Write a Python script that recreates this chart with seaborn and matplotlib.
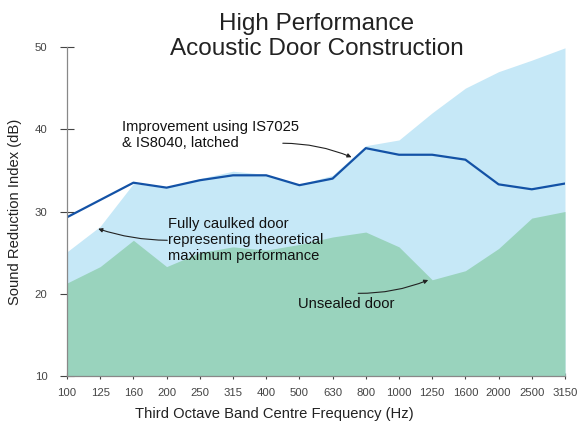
import matplotlib
matplotlib.use("Agg")
import matplotlib.pyplot as plt
import seaborn as sns
import numpy as np
import pandas as pd

# ── Data ──────────────────────────────────────────────────────
freqs = ["100", "125", "160", "200", "250", "315", "400", "500",
         "630", "800", "1000", "1250", "1600", "2000", "2500", "3150"]
latched = [29.3, 31.4, 33.5, 32.9, 33.8, 34.4, 34.4, 33.2,
           34.0, 37.7, 36.9, 36.9, 36.3, 33.3, 32.7, 33.4]
caulked = [25.1, 28.2, 33.4, 32.9, 34.0, 34.9, 34.5, 33.3,
           34.4, 38.0, 38.7, 42.0, 45.0, 47.0, 48.4, 49.9]
unsealed = [21.3, 23.3, 26.5, 23.3, 25.0, 25.7, 25.3, 26.0,
            26.9, 27.5, 25.7, 21.7, 22.8, 25.5, 29.2, 30.0]

df = pd.DataFrame({"pos": np.arange(len(freqs)), "freq": freqs,
                   "latched": latched, "caulked": caulked, "unsealed": unsealed})

sns.set_style("white")
plt.rcParams["font.family"] = ["Liberation Sans", "DejaVu Sans"]

fig = plt.figure(figsize=(5.82, 4.25), dpi=100)
ax = fig.add_axes([67 / 582, 1 - 376 / 425, 498 / 582, 329 / 425])

ax.fill_between(df["pos"], 10, df["caulked"], color="#c6e8f7", lw=0)
ax.fill_between(df["pos"], 10, df["unsealed"], color="#99d3bd", lw=0)
sns.lineplot(data=df, x="pos", y="latched", ax=ax, color="#1352a6", lw=1.6)

ax.set_xlim(0, len(freqs) - 1)
ax.set_ylim(10, 50)
ax.set_xticks(df["pos"])
ax.set_xticklabels(freqs)
ax.set_yticks([10, 20, 30, 40, 50])
ax.tick_params(axis="both", labelsize=8.2, colors="#444444", width=0.8,
               direction="inout", bottom=True, left=True)
ax.tick_params(axis="x", length=4, pad=7)
ax.tick_params(axis="y", length=10, pad=9)
for s in ["top", "right"]:
    ax.spines[s].set_visible(False)
for s in ["left", "bottom"]:
    ax.spines[s].set_color("#888888")
    ax.spines[s].set_linewidth(0.9)

ax.set_xlabel("Third Octave Band Centre Frequency (Hz)", fontsize=10.6, color="#222222")
ax.set_ylabel("Sound Reduction Index (dB)", fontsize=10.6, color="#222222")
ax.xaxis.set_label_coords(0.416, -0.094)
ax.yaxis.set_label_coords(-0.09, 0.5)

fig.text(317 / 582, 1 - 36.5 / 425, "High Performance\nAcoustic Door Construction",
         ha="center", va="center", fontsize=17.5, color="#222222", linespacing=1.13)

# ── Annotations ───────────────────────────────────────────────
arrow = dict(arrowstyle="-|>", color="#222222", lw=0.8, mutation_scale=6,
             shrinkA=0, shrinkB=0)
kw = dict(fontsize=10.6, color="#111111", ha="left", va="center", linespacing=1.2)

ax.text(1.65, 39.3, "Improvement using IS7025\n& IS8040, latched", **kw)
ax.annotate("", xy=(8.57, 36.6), xytext=(6.50, 38.3),
            arrowprops=dict(arrow, connectionstyle="arc3,rad=-0.1"))

ax.text(3.04, 26.5, "Fully caulked door\nrepresenting theoretical\nmaximum performance", **kw)
ax.annotate("", xy=(0.94, 27.9), xytext=(3.02, 26.5),
            arrowprops=dict(arrow, connectionstyle="arc3,rad=-0.08"))

ax.text(6.97, 18.7, "Unsealed door", **kw)
ax.annotate("", xy=(10.88, 21.67), xytext=(8.77, 20.05),
            arrowprops=dict(arrow, connectionstyle="arc3,rad=0.1"))

fig.savefig("out.png", dpi=100)
